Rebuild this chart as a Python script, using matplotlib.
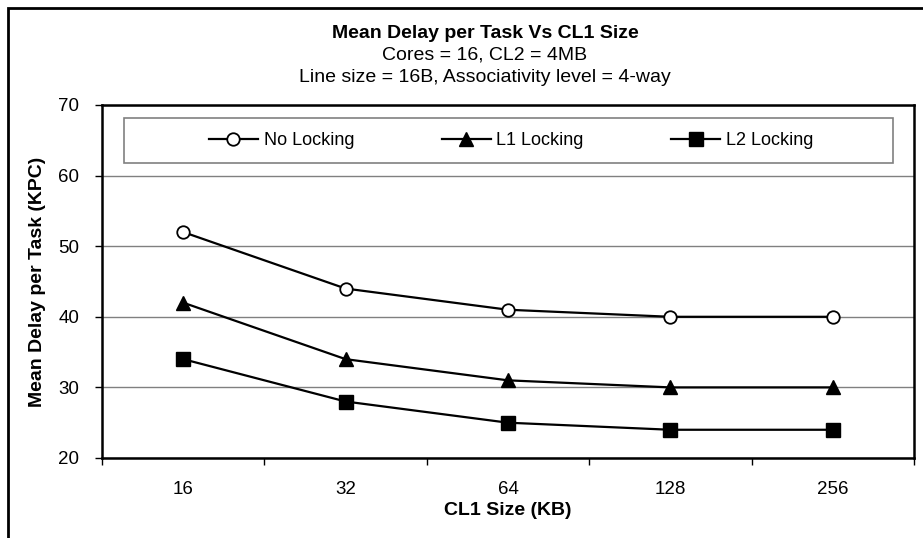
import matplotlib.pyplot as plt
from matplotlib.patches import Rectangle

plt.rcParams['font.family'] = ['Liberation Sans', 'DejaVu Sans']

sizes = ["16", "32", "64", "128", "256"]
no_locking = [52, 44, 41, 40, 40]
l1_locking = [42, 34, 31, 30, 30]
l2_locking = [34, 28, 25, 24, 24]

W, H = 923, 538
fig = plt.figure(figsize=(W / 100, H / 100), dpi=100)
# plot area: x 102..914, y 105..458 (pixels)
ax = fig.add_axes([102 / W, 1 - 458 / H, (914 - 102) / W, (458 - 105) / H])

x = range(len(sizes))
ax.plot(x, no_locking, color="black", lw=1.6, marker="o", ms=9, mfc="white", mec="black", mew=1.3,
        label="No Locking", zorder=3)
ax.plot(x, l1_locking, color="black", lw=1.6, marker="^", ms=10, mfc="black", mec="black",
        label="L1 Locking", zorder=3)
ax.plot(x, l2_locking, color="black", lw=1.6, marker="s", ms=10, mfc="black", mec="black",
        label="L2 Locking", zorder=3)

ax.set_xlim(-0.5, len(sizes) - 0.5)
ax.set_ylim(20, 70)
ax.set_yticks(range(20, 71, 10))
ax.set_xticks(list(x))
ax.set_xticklabels(sizes)
ax.set_xticks([i + 0.5 for i in range(-1, len(sizes))], minor=True)
ax.tick_params(axis="x", which="major", length=0, pad=16.5, labelsize=13.5)
ax.tick_params(axis="x", which="minor", length=5, direction="out", width=1)
ax.tick_params(axis="y", length=5, direction="out", labelsize=13.5, pad=11.5, width=1)
ax.grid(axis="y", color="#808080", lw=1)
for s in ax.spines.values():
    s.set_linewidth(1.8)

ax.set_xlabel("CL1 Size (KB)", fontweight="bold", fontsize=14, labelpad=3)
ax.set_ylabel("Mean Delay per Task (KPC)", fontweight="bold", fontsize=14, labelpad=9)

fig.text(485 / W, 1 - 33 / H, "Mean Delay per Task Vs CL1 Size", ha="center", va="center",
         fontweight="bold", fontsize=14)
fig.text(485 / W, 1 - 55 / H, "Cores = 16, CL2 = 4MB", ha="center", va="center", fontsize=14)
fig.text(485 / W, 1 - 77 / H, "Line size = 16B, Associativity level = 4-way", ha="center", va="center",
         fontsize=14)

# legend box drawn separately (wider than its content, like Excel)
ax.add_patch(Rectangle((22 / 812, 1 - 58 / 353), 769 / 812, 45 / 353, transform=ax.transAxes,
                       facecolor="white", edgecolor="#808080", lw=1.2, zorder=4))
leg = ax.legend(loc="center", bbox_to_anchor=(0.504, 1 - 35.5 / 353), ncol=3, frameon=False,
                fontsize=13, handlelength=2.7, handletextpad=0.33, columnspacing=4.85, borderpad=0)
leg.set_zorder(5)

# outer chart border (cropped on the right and bottom)
fig.patches.append(Rectangle((8 / W, -0.1), 1.2, 1 - 8 / H + 0.1, transform=fig.transFigure,
                             fill=False, edgecolor="black", lw=2))

fig.savefig("out.png", dpi=100)
